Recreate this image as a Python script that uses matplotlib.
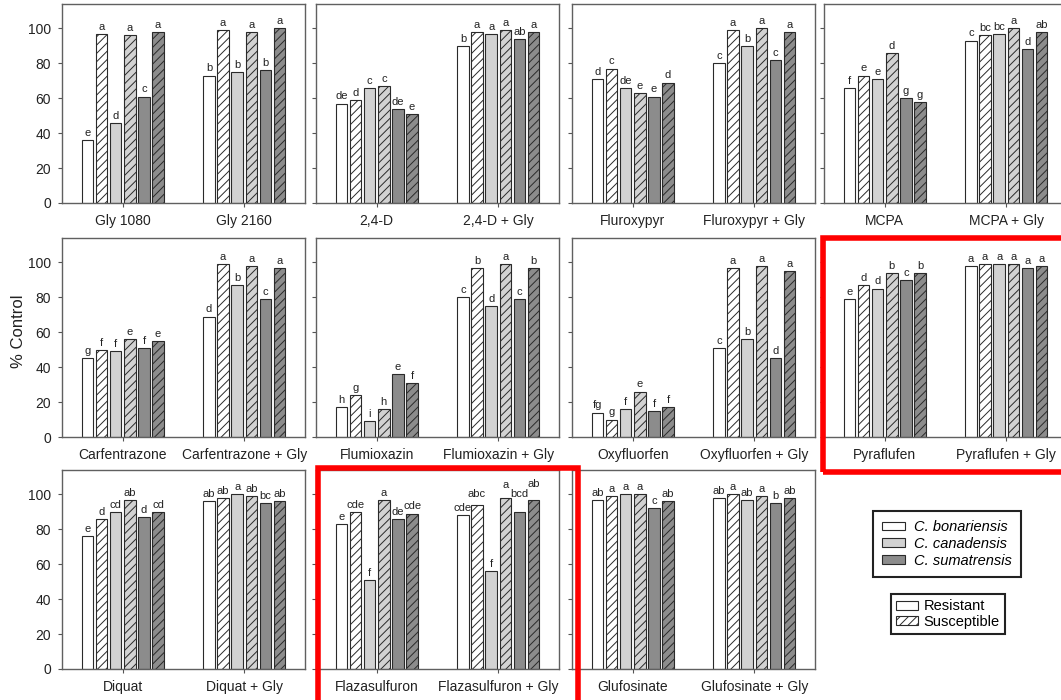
import matplotlib.pyplot as plt
from matplotlib.patches import Patch, Rectangle

plt.rcParams['font.family'] = ['Liberation Sans', 'DejaVu Sans']
plt.rcParams['hatch.linewidth'] = 0.7

# % control per treatment; order: bon R, bon S, can R, can S, sum R, sum S
gly_1080 = [36, 97, 46, 96, 61, 98]
gly_2160 = [73, 99, 75, 98, 76, 100]
d24 = [57, 59, 66, 67, 54, 51]
d24_gly = [90, 98, 97, 99, 94, 98]
fluroxypyr = [71, 77, 66, 63, 61, 69]
fluroxypyr_gly = [80, 99, 90, 100, 82, 98]
mcpa = [66, 73, 71, 86, 60, 58]
mcpa_gly = [93, 96, 97, 100, 88, 98]
carfentrazone = [45, 50, 49, 56, 51, 55]
carfentrazone_gly = [69, 99, 87, 98, 79, 97]
flumioxazin = [17, 24, 9, 16, 36, 31]
flumioxazin_gly = [80, 97, 75, 99, 79, 97]
oxyfluorfen = [14, 10, 16, 26, 15, 17]
oxyfluorfen_gly = [51, 97, 56, 98, 45, 95]
pyraflufen = [79, 87, 85, 94, 90, 94]
pyraflufen_gly = [98, 99, 99, 99, 97, 98]
diquat = [76, 86, 90, 97, 87, 90]
diquat_gly = [96, 98, 100, 99, 95, 96]
flazasulfuron = [83, 90, 51, 97, 86, 89]
flazasulfuron_gly = [88, 94, 56, 98, 90, 97]
glufosinate = [97, 99, 100, 100, 92, 96]
glufosinate_gly = [98, 100, 97, 99, 95, 98]

# mean separation letters
gly_1080_l = ["e", "a", "d", "a", "c", "a"]
gly_2160_l = ["b", "a", "b", "a", "b", "a"]
d24_l = ["de", "d", "c", "c", "de", "e"]
d24_gly_l = ["b", "a", "a", "a", "ab", "a"]
fluroxypyr_l = ["d", "c", "de", "e", "e", "d"]
fluroxypyr_gly_l = ["c", "a", "b", "a", "c", "a"]
mcpa_l = ["f", "e", "e", "d", "g", "g"]
mcpa_gly_l = ["c", "bc", "bc", "a", "d", "ab"]
carfentrazone_l = ["g", "f", "f", "e", "f", "e"]
carfentrazone_gly_l = ["d", "a", "b", "a", "c", "a"]
flumioxazin_l = ["h", "g", "i", "h", "e", "f"]
flumioxazin_gly_l = ["c", "b", "d", "a", "c", "b"]
oxyfluorfen_l = ["fg", "g", "f", "e", "f", "f"]
oxyfluorfen_gly_l = ["c", "a", "b", "a", "d", "a"]
pyraflufen_l = ["e", "d", "d", "b", "c", "b"]
pyraflufen_gly_l = ["a", "a", "a", "a", "a", "a"]
diquat_l = ["e", "d", "cd", "ab", "d", "cd"]
diquat_gly_l = ["ab", "ab", "a", "ab", "bc", "ab"]
flazasulfuron_l = ["e", "cde", "f", "a", "de", "cde"]
flazasulfuron_gly_l = ["cde", "abc", "f", "a", "bcd", "ab"]
glufosinate_l = ["ab", "a", "a", "a", "c", "ab"]
glufosinate_gly_l = ["ab", "a", "ab", "a", "b", "ab"]

panels = [
    ("Gly 1080", gly_1080, gly_1080_l, "Gly 2160", gly_2160, gly_2160_l),
    ("2,4-D", d24, d24_l, "2,4-D + Gly", d24_gly, d24_gly_l),
    ("Fluroxypyr", fluroxypyr, fluroxypyr_l, "Fluroxypyr + Gly", fluroxypyr_gly, fluroxypyr_gly_l),
    ("MCPA", mcpa, mcpa_l, "MCPA + Gly", mcpa_gly, mcpa_gly_l),
    ("Carfentrazone", carfentrazone, carfentrazone_l, "Carfentrazone + Gly", carfentrazone_gly, carfentrazone_gly_l),
    ("Flumioxazin", flumioxazin, flumioxazin_l, "Flumioxazin + Gly", flumioxazin_gly, flumioxazin_gly_l),
    ("Oxyfluorfen", oxyfluorfen, oxyfluorfen_l, "Oxyfluorfen + Gly", oxyfluorfen_gly, oxyfluorfen_gly_l),
    ("Pyraflufen", pyraflufen, pyraflufen_l, "Pyraflufen + Gly", pyraflufen_gly, pyraflufen_gly_l),
    ("Diquat", diquat, diquat_l, "Diquat + Gly", diquat_gly, diquat_gly_l),
    ("Flazasulfuron", flazasulfuron, flazasulfuron_l, "Flazasulfuron + Gly", flazasulfuron_gly, flazasulfuron_gly_l),
    ("Glufosinate", glufosinate, glufosinate_l, "Glufosinate + Gly", glufosinate_gly, glufosinate_gly_l),
]

species = ["C. bonariensis", "C. canadensis", "C. sumatrensis"]
species_colors = ["white", "#d2d2d2", "#8c8c8c"]
edge = "#2a2a2a"

# letters lifted to avoid overlap (panel, group, bar): points
lift = {(9, 1, 1): 3, (9, 1, 3): 4.5, (9, 1, 4): 7.5, (9, 1, 5): 6}

W, H = 1061, 700
fig = plt.figure(figsize=(W / 100, H / 100), dpi=100)

col_left = [62, 316, 572, 824]
row_top = [4, 238, 470]
ax_w, ax_h = 243, 199
centers = [0, 8.6]

for p, (lab1, v1, l1, lab2, v2, l2) in enumerate(panels):
    r, c = divmod(p, 4)
    ax = fig.add_axes([col_left[c] / W, 1 - (row_top[r] + ax_h) / H, ax_w / W, ax_h / H])
    for g, (vals, lets) in enumerate([(v1, l1), (v2, l2)]):
        xs = [centers[g] + j - 2.5 for j in range(6)]
        cols = [species_colors[j // 2] for j in range(6)]
        bars = ax.bar(xs, vals, width=0.82, color=cols, edgecolor=edge, linewidth=0.8)
        for j, b in enumerate(bars):
            if j % 2 == 1:
                b.set_hatch("////")
            ax.annotate(lets[j], (xs[j], vals[j]), xytext=(0, 3 + lift.get((p, g, j), 0)),
                        textcoords="offset points", ha="center", va="baseline",
                        fontsize=8, color="#222222")
    ax.set_xlim(-4.3, 12.9)
    ax.set_ylim(0, 114)
    ax.set_yticks(range(0, 101, 20))
    ax.set_xticks(centers, [lab1, lab2])
    ax.tick_params(axis="both", direction="out", length=3, width=0.8, color="#555555",
                   labelsize=10, labelcolor="#222222")
    ax.tick_params(axis="y", pad=5)
    ax.tick_params(axis="x", pad=5)
    if c > 0:
        ax.tick_params(axis="y", labelleft=False)
    for s in ax.spines.values():
        s.set_color("#606060")
        s.set_linewidth(1.0)

fig.text(19 / W, 1 - 331 / H, "% Control", rotation=90, ha="center", va="center", fontsize=12,
         color="#222222")

# Legenda
sp_handles = [Patch(facecolor=species_colors[i], edgecolor=edge, linewidth=0.8, label=species[i])
              for i in range(3)]
leg1 = fig.legend(handles=sp_handles, loc="center", bbox_to_anchor=(947 / W, 1 - 544 / H),
                  prop={"style": "italic", "size": 10.5}, fancybox=False, framealpha=1,
                  handlelength=1.6, handleheight=0.55, labelspacing=0.2, handletextpad=0.6,
                  borderpad=0.6)
leg1.get_frame().set_edgecolor("#222222")
leg1.get_frame().set_linewidth(1.5)

rs_handles = [Patch(facecolor="white", edgecolor=edge, linewidth=0.8, label="Resistant"),
              Patch(facecolor="white", edgecolor=edge, linewidth=0.8, hatch="////", label="Susceptible")]
leg2 = fig.legend(handles=rs_handles, loc="center", bbox_to_anchor=(948 / W, 1 - 614 / H),
                  prop={"size": 10.5}, fancybox=False, framealpha=1,
                  handlelength=1.5, handleheight=0.55, labelspacing=0.1, handletextpad=0.4,
                  borderpad=0.35)
leg2.get_frame().set_edgecolor("#222222")
leg2.get_frame().set_linewidth(1.5)

# red highlight boxes
for x0, y0, x1, y1 in [(823, 238, 1080, 471.5), (317.5, 468, 577.5, 720)]:
    fig.add_artist(Rectangle((x0 / W, 1 - y1 / H), (x1 - x0) / W, (y1 - y0) / H,
                             transform=fig.transFigure, fill=False, edgecolor="red",
                             linewidth=4, clip_on=False))

fig.savefig("out.png", dpi=100)
